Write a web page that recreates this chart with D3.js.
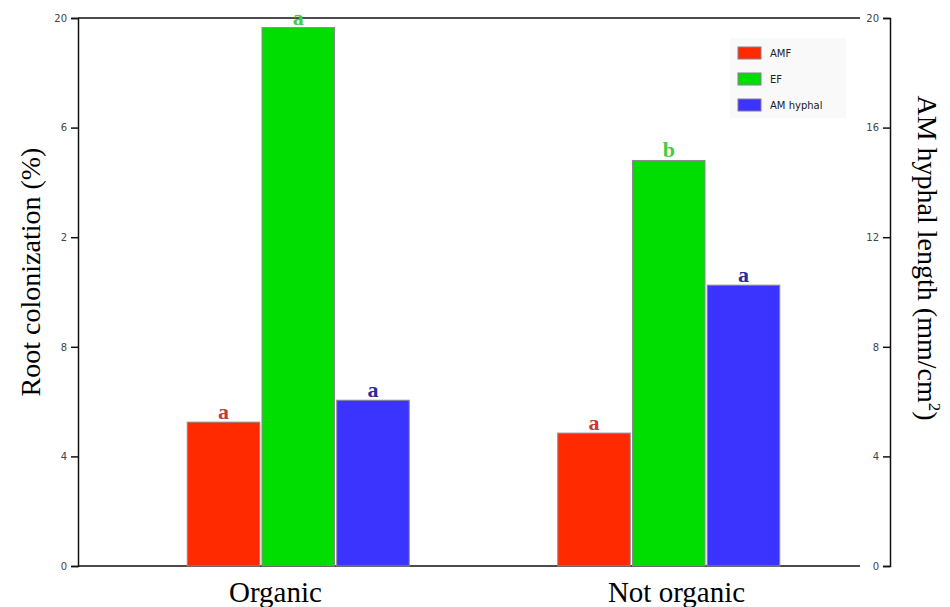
<!DOCTYPE html>
<html lang="en">
<head>
<meta charset="UTF-8" />
<title>Root colonization and AM hyphal length</title>
<script src="https://d3js.org/d3.v7.min.js"></script>
<style>
  body { margin: 0; background: #fff; }
  svg { display: block; }
  .tick text { font-family: "DejaVu Sans", sans-serif; font-size: 10px; fill: #444; }
  .title { font-family: "Liberation Serif", "Times New Roman", serif; font-size: 28px; fill: #000; }
  .cat { font-family: "Liberation Serif", "Times New Roman", serif; font-size: 29px; fill: #000; }
  .sig { font-family: "Liberation Serif", serif; font-size: 22px; font-weight: bold; }
  .legend text { font-family: "DejaVu Sans", sans-serif; font-size: 10px; fill: #222; }
</style>
</head>
<body>
<svg id="chart" width="950" height="607"></svg>
<script>
// data
const categories = ["Organic", "Not organic"];
const series = ["AMF", "EF", "AM hyphal"];
const amf = [5.25, 4.85];          // left axis
const ef = [19.65, 14.8];          // left axis
const hyphal = [6.05, 10.25];      // right axis
const letters = [["a", "a", "a"], ["a", "b", "a"]];
const leftTicks = [0, 4, 8, 12, 16, 20];
const leftTickLabels = ["0", "4", "8", "2", "6", "20"]; // cut off in the original
const rightTicks = [0, 4, 8, 12, 16, 20];

const colors = { "AMF": "#ff2a00", "EF": "#00dd00", "AM hyphal": "#3b33ff" };
const letterColors = { "AMF": "#c23b3b", "EF": "#44cc44", "AM hyphal": "#2b2b9c" };

const svg = d3.select("#chart");
const mLeft = 78, mRight = 860, mTop = 18, mBottom = 566;

const y = d3.scaleLinear().domain([0, 20]).range([mBottom, mTop]);
const y2 = d3.scaleLinear().domain([0, 20]).range([mBottom, mTop]);

const x0 = d3.scaleBand().domain(categories).range([113, 854]);
const x1 = d3.scaleBand().domain(series).range([0, 222]).paddingInner(0.03);
// category labels sit a little off the bar groups in the original
const xLab = d3.scaleBand().domain(categories).range([75, 877]);

// frame lines top and bottom
svg.append("line").attr("x1", mLeft).attr("x2", mRight).attr("y1", mTop).attr("y2", mTop)
  .attr("stroke", "#111").attr("stroke-width", 1.5);
svg.append("line").attr("x1", mLeft).attr("x2", mRight).attr("y1", mBottom).attr("y2", mBottom)
  .attr("stroke", "#111").attr("stroke-width", 1.5);

// left axis
const gl = svg.append("g").attr("transform", `translate(${mLeft},0)`)
  .call(d3.axisLeft(y).tickValues(leftTicks).tickSize(7).tickPadding(4)
    .tickFormat((d, i) => leftTickLabels[i]));
gl.select(".domain").attr("stroke", "#111").attr("stroke-width", 1.5);
gl.selectAll(".tick line").attr("stroke", "#111").attr("stroke-width", 1.5);

// right axis (ticks point left like the original)
const gr = svg.append("g").attr("transform", `translate(890,0)`)
  .call(d3.axisLeft(y2).tickValues(rightTicks).tickSize(7).tickPadding(4));
gr.select(".domain").attr("stroke", "#111").attr("stroke-width", 1.5);
gr.selectAll(".tick line").attr("stroke", "#111").attr("stroke-width", 1.5);

// bars
const rows = categories.map((c, i) => ({
  cat: c,
  vals: [
    { key: "AMF", v: amf[i], s: y, l: letters[i][0] },
    { key: "EF", v: ef[i], s: y, l: letters[i][1] },
    { key: "AM hyphal", v: hyphal[i], s: y2, l: letters[i][2] }
  ]
}));

const groups = svg.selectAll(".grp").data(rows).enter().append("g")
  .attr("class", "grp")
  .attr("transform", d => `translate(${x0(d.cat) + (x0.bandwidth() - 222) / 2},0)`);

groups.selectAll("rect").data(d => d.vals).enter().append("rect")
  .attr("x", d => x1(d.key))
  .attr("y", d => d.s(d.v))
  .attr("width", x1.bandwidth())
  .attr("height", d => mBottom - d.s(d.v))
  .attr("fill", d => colors[d.key])
  .attr("stroke", "#8a8a8a")
  .attr("stroke-width", 1);

groups.selectAll(".sig").data(d => d.vals).enter().append("text")
  .attr("class", "sig")
  .attr("x", d => x1(d.key) + x1.bandwidth() / 2)
  .attr("y", d => d.s(d.v) - 3)
  .attr("text-anchor", "middle")
  .attr("fill", d => letterColors[d.key])
  .text(d => d.l);

// category labels
svg.selectAll(".cat").data(categories).enter().append("text")
  .attr("class", "cat")
  .attr("x", d => xLab(d) + xLab.bandwidth() / 2)
  .attr("y", 602)
  .attr("text-anchor", "middle")
  .text(d => d);

// axis titles
svg.append("text").attr("class", "title")
  .attr("transform", "translate(40,272) rotate(-90)")
  .attr("text-anchor", "middle")
  .text("Root colonization (%)");

const rt = svg.append("text").attr("class", "title")
  .attr("transform", "translate(918,258) rotate(90)")
  .attr("text-anchor", "middle");
rt.append("tspan").text("AM hyphal length (mm/cm");
rt.append("tspan").attr("dy", -11).attr("font-size", 17).text("2");
rt.append("tspan").attr("dy", 11).text(")");

// legend
const legend = svg.append("g").attr("class", "legend").attr("transform", "translate(730,38)");
legend.append("rect").attr("width", 116).attr("height", 80).attr("fill", "#f9f9f9");
series.forEach((s, i) => {
  const row = legend.append("g").attr("transform", `translate(8,${9 + i * 26})`);
  row.append("rect").attr("width", 23).attr("height", 12)
    .attr("fill", colors[s]).attr("stroke", "#8a7a9a").attr("stroke-width", 1);
  row.append("text").attr("x", 32).attr("y", 6).attr("dy", "0.35em").text(s);
});
</script>
</body>
</html>
